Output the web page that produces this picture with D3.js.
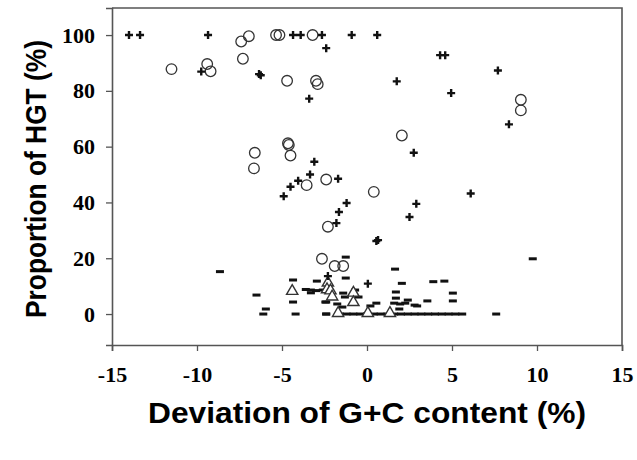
<!DOCTYPE html>
<html>
<head>
<meta charset="utf-8">
<script src="https://cdn.jsdelivr.net/npm/d3@7"></script>
<style>
  html, body { margin: 0; padding: 0; background: #fff; }
  svg { display: block; }
</style>
</head>
<body>
<svg id="chart" width="637" height="460"></svg>
<script>
// ---- data ----
const xTicks = [-15, -10, -5, 0, 5, 10, 15];
const yTicks = [0, 20, 40, 60, 80, 100];

// "+" markers
const plusX = [-14.0, -13.35, -9.35, -4.35, -3.9, -2.65, -0.9, 0.6,
  -2.4, 4.3, 4.6, 7.7, -9.75, -6.35, -6.25, 1.75, 4.95, -3.4, 8.35,
  -3.1, -3.35, -4.05, -4.5, -4.9, -1.7, -1.2, -1.65, -1.8, 0.55, 0.65,
  2.75, 2.9, 2.5, 6.1, 0.05, -2.3];
const plusY = [100, 100, 100, 100, 100, 100, 100, 100,
  95.3, 92.8, 92.8, 87.3, 86.9, 86, 85.6, 83.4, 79.2, 77.2, 68,
  54.6, 50, 47.8, 45.6, 42.2, 48.5, 39.8, 36.6, 32.6, 26.2, 26.5,
  57.8, 39.5, 34.8, 43.2, 10.9, 13.6];

// "o" markers
const circX = [-6.95, -7.4, -5.35, -5.15, -3.2, -11.5, -9.4, -9.2, -7.3,
  -4.7, -3.0, -2.9, 2.05, -4.65, -4.6, 9.05, 9.05, -6.6, -6.65,
  -4.5, -2.4, -3.55, 0.4, -2.3, -2.65, -1.9, -1.4];
const circY = [99.6, 97.7, 100, 100, 100, 87.8, 89.6, 87, 91.5,
  83.6, 83.6, 82.4, 64, 61.2, 60.6, 76.8, 73, 57.8, 52.2,
  56.8, 48.2, 46.2, 43.8, 31.3, 19.8, 17.2, 17.2];

// "triangle" markers
const triX = [-4.4, -2.3, -2.35, -2.15, -2.05, -0.8, -0.8, -1.7, 0.05, 1.35];
const triY = [8.2, 11.2, 8.8, 8.4, 6.2, 7.6, 4.2, 0.3, 0.3, 0.3];

// "-" markers
const dashX = [-8.65, -6.5, -5.95, -6.1, -4.35, -4.35, -4.2,
  -3.6, -3.3, -3.0, -3.3, -2.95, -2.6, -2.4, -2.4,
  -1.25, -1.25, -1.4, -1.3, -2.45, -1.75, -1.45, -2.4,
  -0.7, -0.5, 0.2, 0.55,
  1.65, 2.05, 1.7, 1.7, 1.6, 1.95, 1.9, 2.4, 2.25, 2.8, 2.95, 3.55,
  3.9, 4.55, 5.05, 5.05, 9.75, 7.6,
  -1.6, -1.2, -0.8, -0.4, 0.0, 0.4, 0.8, 1.2, 1.6, 2.0, 2.4, 2.8, 3.2,
  3.6, 4.0, 4.4, 4.8, 5.2, 5.6];
const dashY = [15.2, 6.8, 1.8, 0, 12.2, 4.3, 0,
  8.8, 8.6, 8.4, 7.6, 11.8, 8.6, 4.3, 0,
  20.4, 12.9, 7.5, 6.1, 4.3, 3.6, 2.5, 0,
  8.6, 6.1, 2.9, 3.9,
  16.1, 11, 7.9, 5.7, 3.9, 3.6, 1.8, 5, 3.9, 3.2, 2.9, 4.7,
  11.6, 11.8, 7.5, 4.7, 19.8, 0,
  0, 0, 0, 0, 0, 0, 0, 0, 0, 0, 0, 0, 0,
  0, 0, 0, 0, 0, 0];

// ---- layout ----
const svg = d3.select("#chart");
const mLeft = 112, mRight = 622, mTop = 8, mBottom = 345;
const x = d3.scaleLinear().domain([-15, 15]).range([mLeft, mRight]);
const y = d3.scaleLinear().domain([-11.1, 109.7]).range([mBottom, mTop]);
const axisColor = "#555";

// frame (top & right)
svg.append("path")
  .attr("d", `M${mLeft},${mTop}H${mRight}V${mBottom}`)
  .attr("fill", "none").attr("stroke", axisColor).attr("stroke-width", 1.6);

// x axis
const gx = svg.append("g").attr("transform", `translate(0,${mBottom})`)
  .call(d3.axisBottom(x).tickValues(xTicks).tickSize(6).tickPadding(15)
    .tickFormat(d3.format("d")));
// y axis
const gy = svg.append("g").attr("transform", `translate(${mLeft},0)`)
  .call(d3.axisLeft(y).tickValues(yTicks).tickSize(6).tickPadding(11)
    .tickFormat(d3.format("d")));

[gx, gy].forEach(g => {
  g.select(".domain").attr("stroke", axisColor).attr("stroke-width", 1.6);
  g.selectAll(".tick line").attr("stroke", axisColor).attr("stroke-width", 1.3);
  g.selectAll(".tick text")
    .attr("fill", "#000")
    .attr("font-family", "'Liberation Serif', 'Times New Roman', serif")
    .attr("font-weight", "bold")
    .attr("font-size", 22);
});
gx.selectAll(".tick text").text(d => d < 0 ? "-" + Math.abs(d) : d);

// axis titles
svg.append("text")
  .attr("x", 367).attr("y", 423)
  .attr("text-anchor", "middle")
  .attr("font-family", "'Liberation Sans', Arial, sans-serif")
  .attr("font-weight", "bold").attr("font-size", 30)
  .attr("textLength", 438).attr("lengthAdjust", "spacingAndGlyphs")
  .text("Deviation of G+C content (%)");
svg.append("text")
  .attr("transform", "translate(46,179) rotate(-90)")
  .attr("text-anchor", "middle")
  .attr("font-family", "'Liberation Sans', Arial, sans-serif")
  .attr("font-weight", "bold").attr("font-size", 30)
  .attr("textLength", 278).attr("lengthAdjust", "spacingAndGlyphs")
  .text("Proportion of HGT (%)");

const plot = svg.append("g");

// dashes
plot.selectAll("rect.dash").data(d3.range(dashX.length)).join("rect")
  .attr("class", "dash")
  .attr("x", i => x(dashX[i]) - 4)
  .attr("y", i => y(dashY[i]) - 1.5)
  .attr("width", 8).attr("height", 3)
  .attr("fill", "#111");

// circles
plot.selectAll("circle").data(d3.range(circX.length)).join("circle")
  .attr("cx", i => x(circX[i]))
  .attr("cy", i => y(circY[i]))
  .attr("r", 5.3)
  .attr("fill", "none")
  .attr("stroke", "#333").attr("stroke-width", 1.3);

// triangles
const tri = d3.symbol().type(d3.symbolTriangle).size(55);
plot.selectAll("path.tri").data(d3.range(triX.length)).join("path")
  .attr("class", "tri")
  .attr("transform", i => `translate(${x(triX[i])},${y(triY[i])})`)
  .attr("d", tri)
  .attr("fill", "#fff")
  .attr("stroke", "#333").attr("stroke-width", 1.4);

// plus markers
plot.selectAll("path.plus").data(d3.range(plusX.length)).join("path")
  .attr("class", "plus")
  .attr("transform", i => `translate(${x(plusX[i])},${y(plusY[i])})`)
  .attr("d", "M-4,0H4M0,-4V4")
  .attr("stroke", "#111").attr("stroke-width", 2.4)
  .attr("fill", "none");
</script>
</body>
</html>
